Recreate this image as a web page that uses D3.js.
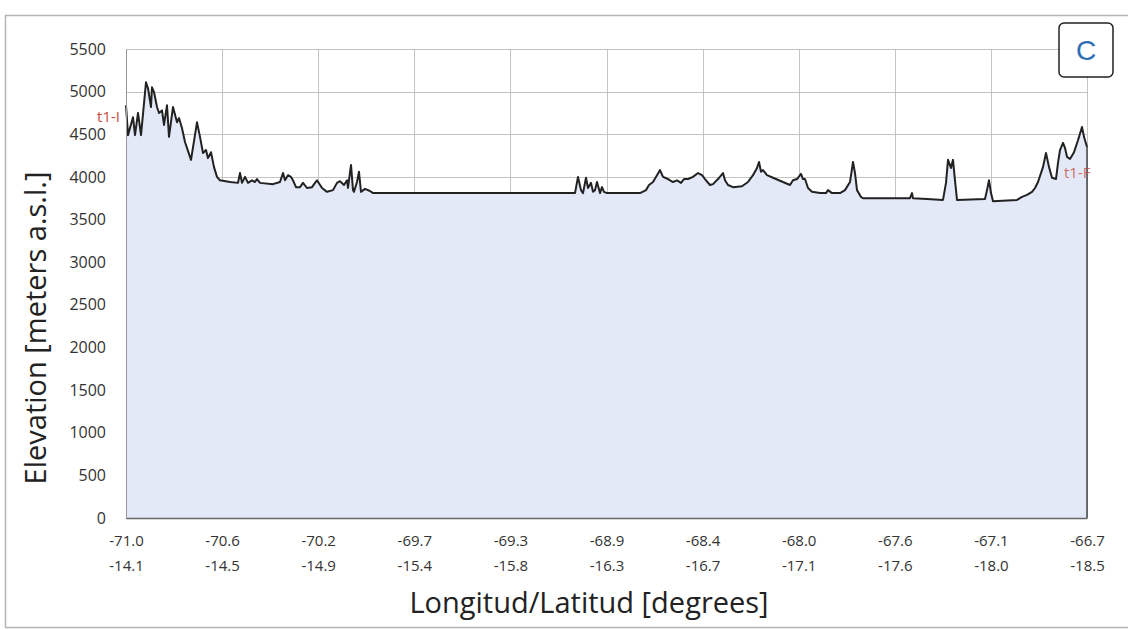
<!DOCTYPE html>
<html>
  <head>
    <meta charset="utf-8">
    <title>Elevation profile C</title>
    <script src="https://cdn.jsdelivr.net/npm/d3@7"></script>
    <style>
      body { margin: 0; background: #fff; }
      svg { display: block; }
      .tick text { font-family: "Open Sans", sans-serif; fill: #333; }
      .grid line { stroke: #c4c4c4; shape-rendering: crispEdges; }
      .grid path { stroke-width: 0; }
    </style>
  </head>
  <body>
    <script>
    // distance along the profile (arbitrary units, 0..961) and elevation in metres
    const dist = [0, 2, 7, 9, 12, 15, 20, 22, 25, 26, 28, 31, 33, 36, 38, 41, 43, 47, 51, 53, 56, 59, 65, 71, 74, 77, 80, 82, 85, 88, 91, 94, 104, 112, 114, 116, 119, 122,
      126, 129, 131, 134, 147, 154, 157, 159, 162, 165, 167, 170, 174, 177, 181, 186, 189, 191, 196, 201, 207, 211, 214, 218, 221, 222, 225, 227, 228, 231, 233, 235, 239, 244, 247, 449,
      452, 455, 457, 460, 462, 465, 467, 469, 471, 474, 476, 478, 481, 514, 520, 523, 527, 531, 534, 537, 542, 547, 551, 555, 558, 562, 567, 572, 576, 579, 584, 587, 592, 597, 599, 602, 607,
      616, 622, 627, 631, 633, 635, 637, 641, 647, 657, 664, 667, 671, 675, 677, 679, 682, 686, 694, 700, 702, 706, 714, 719, 724, 727, 729, 731, 735, 737, 784, 786, 787, 801,
      817, 820, 822, 825, 827, 829, 831, 859, 861, 863, 865, 867, 891, 896, 901, 906, 909, 912, 917, 920, 923, 926, 930, 932, 934, 937, 939, 941, 944, 948, 952, 956, 958, 961];
    const elev = [4840, 4490, 4700, 4490, 4750, 4490, 5110, 5040, 4820, 5050, 4995, 4820, 4750, 4780, 4610, 4840, 4470, 4820, 4640, 4690, 4570, 4410, 4200, 4640, 4470, 4280, 4315, 4220, 4290, 4115, 4000, 3960, 3940, 3930, 4045, 3930, 4000, 3930,
      3960, 3940, 3975, 3930, 3915, 3940, 4045, 3960, 4020, 4000, 3960, 3880, 3880, 3930, 3870, 3880, 3930, 3960, 3870, 3825, 3845, 3930, 3950, 3905, 3960, 3870, 4140, 3845, 3825, 3940, 4060, 3825, 3860, 3835, 3810, 3810,
      4000, 3845, 3810, 3990, 3870, 3930, 3825, 3845, 3940, 3810, 3880, 3825, 3810, 3810, 3845, 3905, 3940, 4020, 4080, 4000, 3975, 3940, 3960, 3930, 3975, 3975, 4000, 4045, 4020, 3975, 3905, 3915, 3975, 4045, 3960, 3905, 3880,
      3890, 3940, 4020, 4105, 4175, 4060, 4080, 4020, 3990, 3940, 3905, 3960, 3975, 4035, 3975, 3975, 3870, 3825, 3810, 3810, 3845, 3810, 3810, 3845, 3940, 4175, 4045, 3845, 3765, 3750, 3750, 3810, 3750, 3740,
      3730, 3930, 4200, 4105, 4200, 3960, 3730, 3740, 3845, 3960, 3810, 3715, 3730, 3765, 3790, 3825, 3870, 3940, 4115, 4280, 4115, 3990, 3975, 4165, 4315, 4400, 4340, 4235, 4210, 4290, 4430, 4585, 4470, 4350];

    const lonLabels = ["-71.0", "-70.6", "-70.2", "-69.7", "-69.3", "-68.9", "-68.4", "-68.0", "-67.6", "-67.1", "-66.7"];
    const latLabels = ["-14.1", "-14.5", "-14.9", "-15.4", "-15.8", "-16.3", "-16.7", "-17.1", "-17.6", "-18.0", "-18.5"];
    const yTicks = [0, 500, 1000, 1500, 2000, 2500, 3000, 3500, 4000, 4500, 5000, 5500];

    const W = 1128, H = 630;
    const margin = {top: 49, right: 41, bottom: 112, left: 126};
    const width = W - margin.left - margin.right,
          height = H - margin.top - margin.bottom;

    const svg = d3.select("body").append("svg")
      .attr("width", W)
      .attr("height", H);

    // outer frame
    svg.append("rect")
      .attr("x", 5.5).attr("y", 15.5)
      .attr("width", W + 10).attr("height", 612)
      .attr("fill", "none").attr("stroke", "#b5b5b5").attr("stroke-width", 1.5);

    const g = svg.append("g")
      .attr("transform", "translate(" + margin.left + "," + margin.top + ")");

    const x = d3.scaleLinear().domain([0, 961]).range([0, width]);
    const y = d3.scaleLinear().domain([0, 5500]).range([height, 0]);
    const xTicks = lonLabels.map((d, i) => i * 96.1);

    // gridlines
    g.append("g").attr("class", "grid")
      .call(d3.axisLeft(y).tickValues(yTicks).tickSize(-width).tickFormat(""));
    g.append("g").attr("class", "grid")
      .attr("transform", "translate(0," + height + ")")
      .call(d3.axisBottom(x).tickValues(xTicks).tickSize(-height).tickFormat(""));

    const pts = dist.map((d, i) => [d, elev[i]]);

    g.append("path")
      .datum(pts)
      .attr("fill", "#e3e9f7")
      .attr("d", d3.area().x(d => x(d[0])).y0(y(0)).y1(d => y(d[1])));

    g.append("path")
      .datum(pts)
      .attr("fill", "none")
      .attr("stroke", "#222")
      .attr("stroke-width", 2)
      .attr("stroke-linejoin", "round")
      .attr("d", d3.line().x(d => x(d[0])).y(d => y(d[1])));

    // right edge of the filled profile
    g.append("line")
      .attr("x1", x(961)).attr("x2", x(961))
      .attr("y1", y(elev[elev.length - 1])).attr("y2", height)
      .attr("stroke", "#444").attr("stroke-width", 1.5);

    // axes
    const yAxis = g.append("g")
      .call(d3.axisLeft(y).tickValues(yTicks).tickSize(0).tickPadding(20).tickFormat(d3.format("d")));
    yAxis.select(".domain").attr("stroke", "#999");
    yAxis.selectAll("text").style("font-size", "16px");

    const xAxis = g.append("g")
      .attr("transform", "translate(0," + height + ")")
      .call(d3.axisBottom(x).tickValues(xTicks).tickSize(0).tickFormat(""));
    xAxis.select(".domain").attr("stroke", "#666").attr("stroke-width", 1.5);
    xAxis.selectAll(".tick").append("text")
      .attr("y", 28).attr("text-anchor", "middle")
      .style("font-size", "15px")
      .text((d, i) => lonLabels[i]);
    xAxis.selectAll(".tick").append("text")
      .attr("y", 53).attr("text-anchor", "middle")
      .style("font-size", "15px")
      .text((d, i) => latLabels[i]);

    // axis titles
    svg.append("text")
      .attr("x", 589).attr("y", 613)
      .attr("text-anchor", "middle")
      .style("font-family", "Open Sans, sans-serif")
      .style("font-size", "29px")
      .attr("fill", "#222")
      .text("Longitud/Latitud [degrees]");

    svg.append("text")
      .attr("transform", "translate(46,328) rotate(-90)")
      .attr("text-anchor", "middle")
      .style("font-family", "Open Sans, sans-serif")
      .style("font-size", "29px")
      .attr("fill", "#222")
      .text("Elevation [meters  a.s.l.]");

    // start / end labels
    svg.append("text")
      .attr("x", 120).attr("y", 122)
      .attr("text-anchor", "end")
      .style("font-family", "Open Sans, sans-serif")
      .style("font-size", "15px")
      .attr("fill", "#c8463c")
      .text("t1-I");

    svg.append("text")
      .attr("x", 1064).attr("y", 178)
      .style("font-family", "Open Sans, sans-serif")
      .style("font-size", "15px")
      .attr("fill", "#c8463c")
      .attr("opacity", 0.75)
      .text("t1-F");

    // panel letter
    svg.append("rect")
      .attr("x", 1059).attr("y", 23)
      .attr("width", 54).attr("height", 54)
      .attr("rx", 5)
      .attr("fill", "#fff").attr("stroke", "#222").attr("stroke-width", 1.5);
    svg.append("text")
      .attr("x", 1086).attr("y", 60)
      .attr("text-anchor", "middle")
      .style("font-family", "Liberation Sans, Arial, sans-serif")
      .style("font-size", "28px")
      .attr("fill", "#2e6db4")
      .text("C");
    </script>
  </body>
</html>
